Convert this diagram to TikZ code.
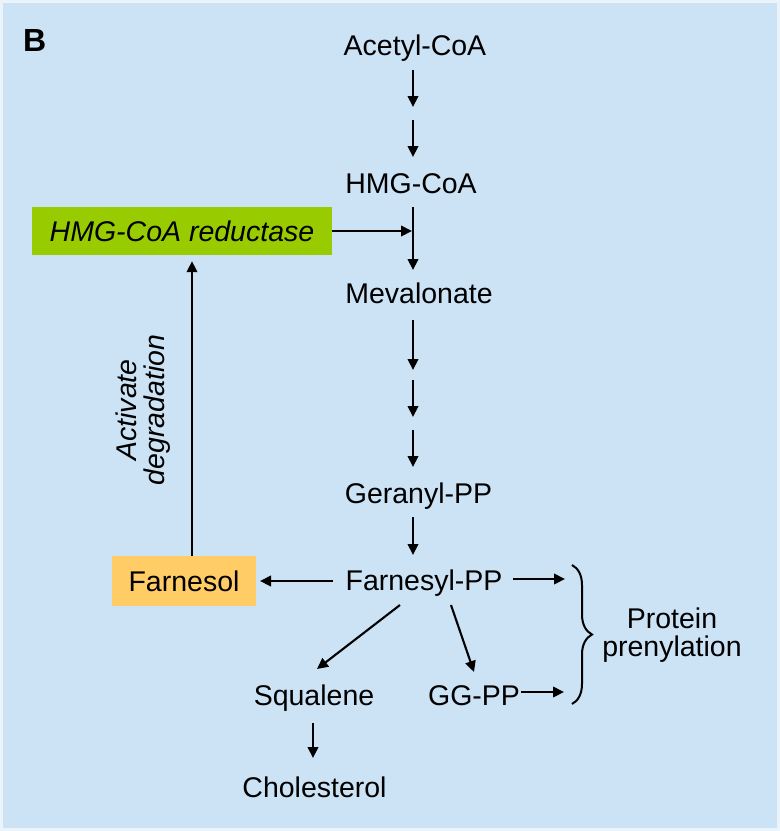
\documentclass[tikz,border=0pt]{standalone}
\usepackage{fontspec}
\setmainfont{Liberation Sans}
\usetikzlibrary{arrows.meta,decorations.pathreplacing}
\definecolor{bgblue}{RGB}{204,226,245}
\definecolor{edgecol}{RGB}{236,244,251}
\definecolor{enzgreen}{RGB}{153,204,0}
\definecolor{farnorange}{RGB}{255,204,102}
\begin{document}
\begin{tikzpicture}[x=1pt,y=-1pt,
  lbl/.style={font=\fontsize{28.5}{25}\selectfont, inner sep=0pt, anchor=base},
  arr/.style={line width=2.1pt, -{Triangle[length=11pt,width=10.5pt]}},
  boxnode/.style={inner sep=0pt, font=\fontsize{28.5}{25}\selectfont},
]
\useasboundingbox (0,0) rectangle (780,831);
\fill[edgecol] (0,0) rectangle (780,831);
\fill[bgblue] (3,3) rectangle (777,828);

\node[font=\fontsize{32}{32}\selectfont\bfseries, anchor=base west, inner sep=0pt] (B) at (23,51) {B};

\node[lbl] (acetyl) at (415,55) {Acetyl-CoA};
\node[lbl] (hmg) at (411,193) {HMG-CoA};
\node[lbl] (meva) at (419,303) {Mevalonate};
\node[lbl] (geranyl) at (418.5,503) {Geranyl-PP};
\node[lbl] (farnesyl) at (424,590) {Farnesyl-PP};
\node[lbl] (squalene) at (314,705) {Squalene};
\node[lbl] (ggpp) at (474,705) {GG-PP};
\node[lbl] (chol) at (314.5,797) {Cholesterol};

\node[boxnode, fill=enzgreen, minimum width=300pt, minimum height=48pt, font=\fontsize{28.5}{25}\selectfont\itshape] (hmgr) at (182,231) {HMG-CoA reductase};
\node[boxnode, fill=farnorange, minimum width=144pt, minimum height=50pt] (farnesol) at (184,581) {Farnesol};

\node[boxnode, rotate=90, align=center, font=\fontsize{28.5}{28}\selectfont\itshape] (actdeg) at (143.5,410) {Activate\\degradation};
\node[boxnode, align=center, font=\fontsize{28.5}{28}\selectfont] (prenyl) at (672,635.5) {Protein\\prenylation};

% coordinates for the main column
\coordinate (c1a) at (413,70);  \coordinate (c1b) at (413,107);
\coordinate (c2a) at (413,120); \coordinate (c2b) at (413,157);
\coordinate (c3a) at (413,207); \coordinate (c3b) at (413,270);
\coordinate (c3m) at (412,231);
\coordinate (c4a) at (413,320); \coordinate (c4b) at (413,370);
\coordinate (c5a) at (413,380); \coordinate (c5b) at (413,417);
\coordinate (c6a) at (413,430); \coordinate (c6b) at (413,467);
\coordinate (c7a) at (413,517); \coordinate (c7b) at (413,555);
\coordinate (fl) at (333,581);  \coordinate (flend) at (260,581);
\coordinate (fr) at (513,579);  \coordinate (frend) at (565,579);
\coordinate (fsq) at (400,605); \coordinate (sqend) at (317,669);
\coordinate (fgg) at (451,605); \coordinate (ggend) at (474,672);
\coordinate (ggr) at (521,692); \coordinate (ggrend) at (564,692);
\coordinate (sqa) at (313,723); \coordinate (sqb) at (313,758);
\coordinate (brtop) at (572,565); \coordinate (brbot) at (572,704);

\draw[arr] (c1a) -- (c1b);
\draw[arr] (c2a) -- (c2b);
\draw[arr] (c3a) -- (c3b);
\draw[arr] (hmgr.east) -- (c3m);
\draw[arr] (c4a) -- (c4b);
\draw[arr] (c5a) -- (c5b);
\draw[arr] (c6a) -- (c6b);
\draw[arr] (c7a) -- (c7b);
\draw[arr] (fl) -- (flend);
\draw[arr] ([xshift=8pt]farnesol.north) -- ([xshift=10pt,yshift=-6pt]hmgr.south);
\draw[arr] (fr) -- (frend);
\draw[arr] (fsq) -- (sqend);
\draw[arr] (fgg) -- (ggend);
\draw[arr] (ggr) -- (ggrend);
\draw[arr] (sqa) -- (sqb);
\draw[line width=2pt, decorate, decoration={brace, amplitude=20pt}] (brtop) -- (brbot);
\end{tikzpicture}
\end{document}
